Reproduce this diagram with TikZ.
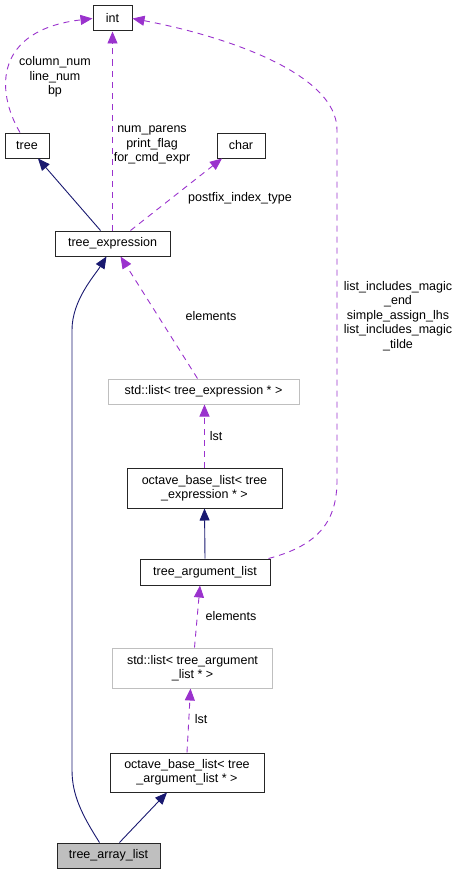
\documentclass[tikz,border=0pt]{standalone}
\usepackage{fontspec}
\setmainfont{Liberation Sans}
\usetikzlibrary{arrows.meta, positioning}
\definecolor{mPurple}{HTML}{9A32CD}
\definecolor{mNavy}{HTML}{191970}
\definecolor{mGrey}{HTML}{BFBFBF}

\begin{document}
\begin{tikzpicture}[
    x=1pt, y=-1pt,
    every node/.style={font=\fontsize{12.5}{14}\selectfont, align=center, inner sep=0pt},
    cls/.style={draw=black!85, line width=1pt, fill=white, minimum height=25pt},
    tmpl/.style={cls, draw=mGrey},
    self/.style={cls, fill=mGrey},
    inherit/.style={draw=mNavy, line width=0.9pt, -{Triangle[length=12pt,width=10pt]}},
    usage/.style={draw=mPurple, line width=0.9pt, dash pattern=on 6pt off 5pt,
                  -{Triangle[length=12pt,width=10pt]}},
    lbl/.style={font=\fontsize{12.5}{14.5}\selectfont},
  ]
    \useasboundingbox (0,0) rectangle (462,875);

    % classes
    \node[cls, minimum width=39pt] (int) at (112.5,18.5) {int};
    \node[cls, minimum width=44pt] (tree) at (27,145.5) {tree};
    \node[cls, minimum width=48pt] (char) at (241,145.5) {char};
    \node[cls, minimum width=115pt] (texpr) at (112.5,243.5) {tree\_expression};
    \node[tmpl, minimum width=191pt] (lstexpr) at (203.5,391.5) {std::list< tree\_expression * >};
    \node[cls, minimum width=155pt, minimum height=40pt] (oblexpr) at (204.5,488)
      {octave\_base\_list< tree\\\_expression * >};
    \node[cls, minimum width=130pt, minimum height=26pt] (targ) at (205,572) {tree\_argument\_list};
    \node[tmpl, minimum width=160pt, minimum height=40pt] (lstarg) at (192.5,668)
      {std::list< tree\_argument\\\_list * >};
    \node[cls, minimum width=154pt, minimum height=39pt] (oblarg) at (187,772.5)
      {octave\_base\_list< tree\\\_argument\_list * >};
    \node[self, minimum width=103pt] (tal) at (108.5,855.5) {tree\_array\_list};

    % inheritance
    \draw[inherit] ([xshift=-12pt]texpr.north) -- ([xshift=11pt]tree.south);
    \draw[inherit] (targ.north) -- (oblexpr.south);
    \draw[inherit] ([xshift=11pt]tal.north) -- ([xshift=-20pt]oblarg.south);
    \draw[inherit] ([xshift=-9pt]tal.north) .. controls (82,815) and (72,795) .. (72,770)
      -- (72,330) .. controls (72,300) and (95,275) .. ([xshift=-6pt]texpr.south);

    % members
    \draw[usage] ([xshift=-7pt]tree.north) .. controls (-5,90) and (-5,30) .. (int.west);
    \draw[usage] (texpr.north) -- (int.south);
    \draw[usage] ([xshift=18pt]texpr.north) -- ([xshift=-19pt]char.south);
    \draw[usage] ([xshift=-6pt]lstexpr.north) -- ([xshift=8pt]texpr.south);
    \draw[usage] (oblexpr.north) -- ([xshift=1pt]lstexpr.south);
    \draw[usage] ([xshift=-2pt]targ.north east) .. controls (320,545) and (337,520) .. (337,480)
      -- (337,130) .. controls (337,72) and (220,35) .. (int.east);
    \draw[usage] ([xshift=2pt]lstarg.north) -- ([xshift=-5pt]targ.south);
    \draw[usage] (oblarg.north) -- ([xshift=-2pt]lstarg.south);

    % edge labels
    \node[lbl] (lbltree) at (55,77) {column\_num\\line\_num\\bp};
    \node[lbl] (lblint) at (152,145) {num\_parens\\print\_flag\\for\_cmd\_expr};
    \node[lbl] (lblchar) at (240,198) {postfix\_index\_type};
    \node[lbl] (lblelem) at (211,316) {elements};
    \node[lbl] (lbllst) at (216,436) {lst};
    \node[lbl] (lblmagic) at (398,316)
      {list\_includes\_magic\\\_end\\simple\_assign\_lhs\\list\_includes\_magic\\\_tilde};
    \node[lbl] (lblelemarg) at (231,616) {elements};
    \node[lbl] (lbllstarg) at (201,719) {lst};
\end{tikzpicture}
\end{document}
